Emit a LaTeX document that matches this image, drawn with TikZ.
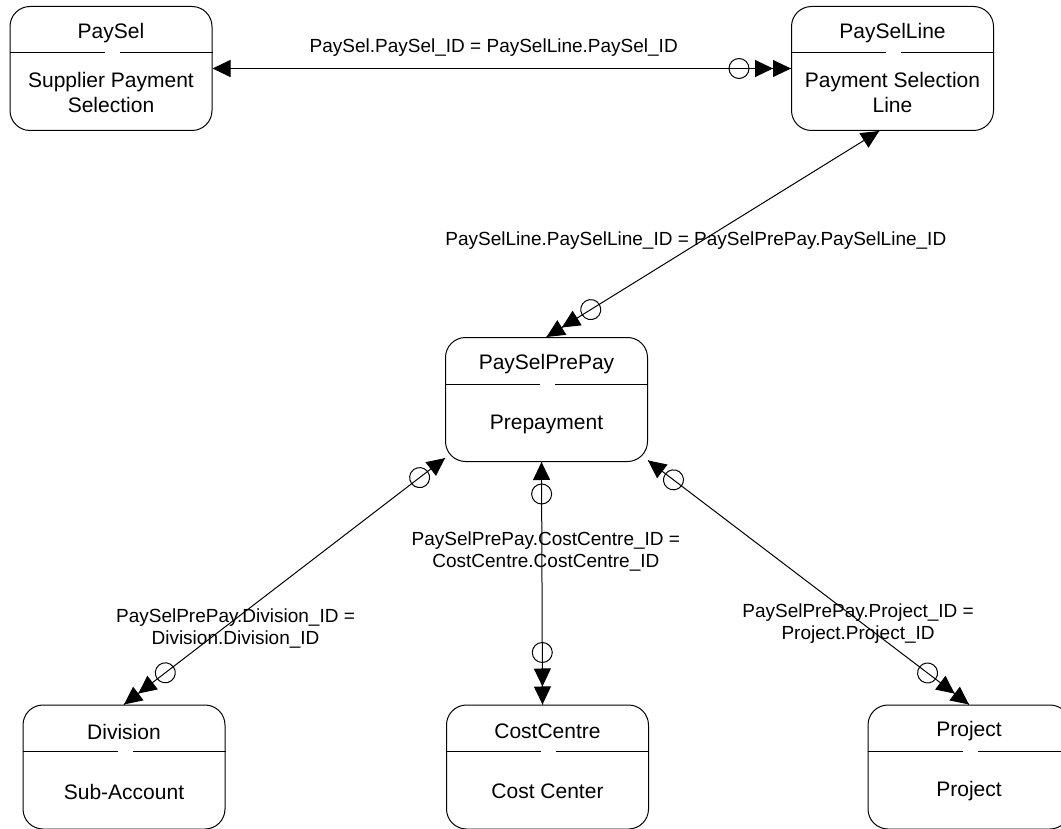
\documentclass[tikz,border=0pt]{standalone}
\usepackage{fontspec}
\setmainfont{Liberation Sans}
\usetikzlibrary{positioning,arrows.meta,decorations.markings,calc}

\begin{document}
\begin{tikzpicture}[
x=1pt, y=-1pt,
line width=1pt,
    entity/.style={
        rectangle,
        draw,
        rounded corners=20pt,
        minimum width=202pt,
        minimum height=124pt,
        inner sep=0pt
    },
    title/.style={font=\fontsize{21}{25}\selectfont, inner sep=0pt},
    body/.style={font=\fontsize{21}{25}\selectfont, align=center, inner sep=0pt},
    rel/.style={font=\fontsize{19}{22}\selectfont, align=center},
    fk/.tip={Triangle[length=18pt,width=17pt]},
    link/.style={postaction={decorate}},
    one tail/.style={decoration={markings,
        mark=at position 0 with {\arrowreversed{fk}}}},
    opt tail/.style={decoration={markings,
        mark=at position 0 with {\arrowreversed{fk}},
        mark=at position 32pt with {\draw (0,0) circle (10pt);}}},
    many head/.style={decoration={markings,
        mark=at position -52pt with {\draw (0,0) circle (10pt);},
        mark=at position -18pt with {\arrow{fk}},
        mark=at position 1 with {\arrow{fk}}}}
]
\useasboundingbox (0,0) rectangle (1061,829);
\clip (0,0) rectangle (1061,829);

\node[entity] (paysel)       at (111,68.5)   {};
\node[entity] (payselline)   at (892.5,68.5) {};
\node[entity] (payselprepay) at (546.5,399.5) {};
\node[entity] (division)     at (124,767)    {};
\node[entity] (costcentre)   at (547.5,767)  {};
\node[entity] (project)      at (969,767)    {};

% Table names
\node[title] (paysel-title)       at ($(paysel.north)+(0,27)$)       {PaySel};
\node[title] (payselline-title)   at ($(payselline.north)+(0,27)$)   {PaySelLine};
\node[title] (payselprepay-title) at ($(payselprepay.north)+(0,27)$) {PaySelPrePay};
\node[title] (division-title)     at ($(division.north)+(0,27)$)     {Division};
\node[title] (costcentre-title)   at ($(costcentre.north)+(0,27)$)   {CostCentre};
\node[title] (project-title)      at ($(project.north)+(0,27)$)      {Project};

% Descriptions
\node[body] (paysel-body)       at ($(paysel.north)+(0,86)$)       {Supplier Payment\\Selection};
\node[body] (payselline-body)   at ($(payselline.north)+(0,86)$)   {Payment Selection\\Line};
\node[body] (payselprepay-body) at ($(payselprepay.north)+(0,87)$) {Prepayment};
\node[body] (division-body)     at ($(division.north)+(0,87)$)     {Sub-Account};
\node[body] (costcentre-body)   at ($(costcentre.north)+(0,87)$)   {Cost Center};
\node[body] (project-body)      at ($(project.north)+(0,87)$)      {Project};

% Separators
\draw ($(paysel.north west)+(0,47)$) -- +(95,0) ($(paysel.north east)+(0,47)$) -- +(-93,0);
\draw ($(payselline.north west)+(0,47)$) -- +(95,0) ($(payselline.north east)+(0,47)$) -- +(-93,0);
\draw ($(payselprepay.north west)+(0,47)$) -- +(95,0) ($(payselprepay.north east)+(0,47)$) -- +(-93,0);
\draw ($(division.north west)+(0,47)$) -- +(95,0) ($(division.north east)+(0,47)$) -- +(-93,0);
\draw ($(costcentre.north west)+(0,47)$) -- +(95,0) ($(costcentre.north east)+(0,47)$) -- +(-93,0);
\draw ($(project.north west)+(0,47)$) -- +(95,0) ($(project.north east)+(0,47)$) -- +(-93,0);

% Relationships
\draw[link, one tail, many head] (paysel.east) -- (payselline.west)
    node[rel, midway, above=8pt, xshift=-8pt] (paysel-payselline) {PaySel.PaySel\_ID = PaySelLine.PaySel\_ID};
\draw[link, one tail, many head] (payselline.258) -- (payselprepay.north)
    node[rel, pos=0.53, xshift=-7pt] (payselline-payselprepay) {PaySelLine.PaySelLine\_ID = PaySelPrePay.PaySelLine\_ID};
\draw[link, opt tail, many head] (payselprepay.210) -- (division.north)
    node[rel, pos=0.69, xshift=12pt] (payselprepay-division) {PaySelPrePay.Division\_ID =\\Division.Division\_ID};
\draw[link, opt tail, many head] ([xshift=-5pt]payselprepay.south) -- ([xshift=-5pt]costcentre.north)
    node[rel, pos=0.37, xshift=4pt] (payselprepay-costcentre) {PaySelPrePay.CostCentre\_ID =\\CostCentre.CostCentre\_ID};
\draw[link, opt tail, many head] (payselprepay.329) -- (project.north)
    node[rel, pos=0.67, xshift=-5pt] (payselprepay-project) {PaySelPrePay.Project\_ID =\\Project.Project\_ID};
\end{tikzpicture}
\end{document}
